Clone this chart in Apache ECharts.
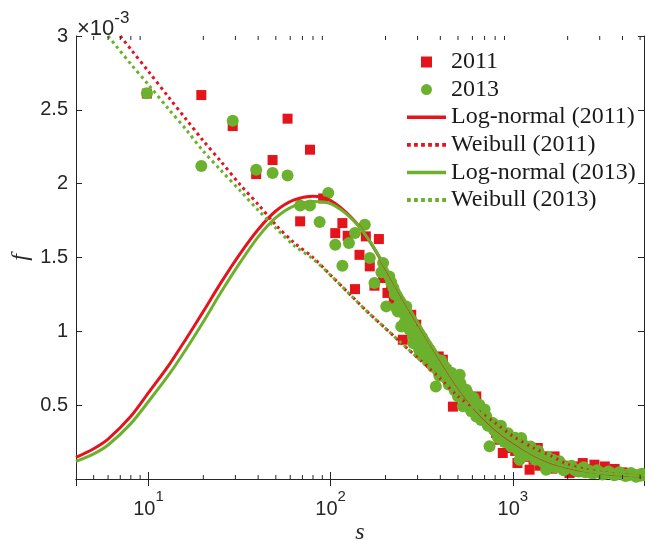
<!DOCTYPE html>
<html lang="en">
<head>
    <meta charset="UTF-8">
    <title>f vs s</title>
    <script src="https://cdn.jsdelivr.net/npm/echarts@6/dist/echarts.min.js"></script>
    <style>
        html, body { margin: 0; padding: 0; background: #fff; }
        #container { width: 645px; height: 541px; }
    </style>
</head>
<body>
<div id="container"></div>
<script>
    // values of f are in units of 1e-3 (as the axis shows them)
    var pts2011 = [
        [9.8, 2.61], [19.5, 2.60], [29, 2.39], [39, 2.065], [48, 2.16], [58, 2.44], [68, 1.745], [77, 2.23],
        [91, 1.90], [106, 1.665], [116, 1.733], [124, 1.647], [136, 1.286], [144, 1.518], [156, 1.643],
        [164, 1.44], [174, 1.309], [184, 1.625], [194, 1.361], [205, 1.26], [215, 1.282], [222, 1.219],
        [234, 1.158], [239, 1.18], [249, 0.943], [262, 1.10], [277, 1.112], [295, 1.045], [306, 0.909],
        [318, 0.95], [342, 0.819], [356, 0.785], [372, 0.762], [392, 0.83], [413, 0.808], [432, 0.74],
        [450, 0.70], [469, 0.49], [490, 0.64], [520, 0.60], [560, 0.53], [603, 0.458], [630, 0.559],
        [670, 0.44], [710, 0.40], [760, 0.36], [810, 0.31], [845, 0.266], [881, 0.176], [930, 0.25],
        [980, 0.21], [1030, 0.19], [1060, 0.108], [1120, 0.17], [1180, 0.15], [1236, 0.063], [1300, 0.13],
        [1371, 0.21], [1400, 0.09], [1460, 0.12], [1560, 0.10], [1650, 0.07], [1695, 0.153], [1900, 0.09],
        [2046, 0.04], [2100, 0.075], [2250, 0.05], [2300, 0.085], [2420, 0.108], [2600, 0.065], [2806, 0.097],
        [3000, 0.055], [3200, 0.085], [3400, 0.04], [3620, 0.068], [4000, 0.045], [4400, 0.035], [4800, 0.03],
        [5200, 0.028]
    ];
    var pts2013 = [
        [9.8, 2.613], [19.5, 2.12], [29, 2.426], [39, 2.094], [48, 2.072], [58, 2.056], [68, 1.852], [77, 1.852],
        [87, 1.74], [97, 1.936], [106, 1.586], [116, 1.444], [126, 1.598], [136, 1.666], [154, 1.722],
        [164, 1.496], [174, 1.327], [190, 1.40], [194, 1.462], [202, 1.169], [210, 1.372], [215, 1.33],
        [221, 1.293], [225, 1.25], [229, 1.158], [234, 1.135], [240, 1.20], [244, 1.033], [245, 1.15],
        [252, 1.12], [255, 1.06], [260, 1.169], [265, 1.08], [271, 1.011], [275, 1.05], [283, 0.966],
        [285, 0.92], [290, 1.00], [295, 0.98], [301, 0.932], [306, 0.875], [312, 0.95], [315, 0.84],
        [321, 0.887], [325, 0.92], [332, 0.90], [335, 0.82], [340, 0.86], [349, 0.875], [355, 0.86],
        [363, 0.83], [365, 0.76], [370, 0.80], [378, 0.627], [380, 0.78], [388, 0.808], [395, 0.70],
        [400, 0.76], [405, 0.80], [410, 0.74], [415, 0.70], [422, 0.762], [430, 0.74], [438, 0.718],
        [445, 0.64], [450, 0.68], [460, 0.72], [470, 0.66], [480, 0.60], [489, 0.695], [500, 0.56],
        [511, 0.706], [515, 0.65], [521, 0.627], [532, 0.492], [540, 0.50], [544, 0.582], [555, 0.605],
        [565, 0.58], [575, 0.52], [590, 0.46], [603, 0.537], [610, 0.55], [620, 0.48], [630, 0.424],
        [640, 0.46], [655, 0.503], [670, 0.40], [685, 0.45], [700, 0.47], [715, 0.424], [730, 0.36],
        [745, 0.221], [760, 0.38], [777, 0.379], [790, 0.33], [810, 0.35], [830, 0.28], [845, 0.322],
        [860, 0.36], [880, 0.30], [900, 0.25], [920, 0.288], [940, 0.31], [960, 0.26], [980, 0.22],
        [1000, 0.221], [1030, 0.28], [1050, 0.24], [1070, 0.19], [1090, 0.131], [1112, 0.278], [1130, 0.24],
        [1150, 0.20], [1200, 0.16], [1236, 0.198], [1250, 0.22], [1300, 0.17], [1330, 0.13], [1350, 0.14],
        [1380, 0.19], [1400, 0.165], [1450, 0.12], [1480, 0.11], [1524, 0.063], [1550, 0.15], [1600, 0.11],
        [1657, 0.131], [1700, 0.08], [1750, 0.09], [1800, 0.12], [1850, 0.10], [1900, 0.06], [1950, 0.07],
        [2050, 0.08], [2100, 0.09], [2200, 0.06], [2300, 0.05], [2350, 0.065], [2450, 0.08], [2500, 0.045],
        [2650, 0.055], [2700, 0.04], [2800, 0.04], [2900, 0.06], [3000, 0.045], [3100, 0.03], [3200, 0.035],
        [3350, 0.05], [3450, 0.04], [3600, 0.025], [3700, 0.03], [3850, 0.045], [4000, 0.032], [4150, 0.02],
        [4300, 0.025], [4450, 0.04], [4600, 0.028], [4750, 0.015], [5000, 0.022], [5100, 0.035], [5200, 0.025]
    ];

    // fitted curves
    var lnS = [4, 5, 6, 8, 10, 13, 16, 20, 25, 32, 40, 50, 63, 80, 100, 130, 160, 200, 250, 320, 400, 500,
        630, 800, 1000, 1300, 1600, 2000, 2500, 3200, 4000, 5000, 5250];
    var ln2011 = [0.146, 0.205, 0.27, 0.425, 0.585, 0.775, 0.945, 1.135, 1.33, 1.53, 1.69, 1.815, 1.89, 1.915,
        1.885, 1.77, 1.63, 1.43, 1.22, 1.0, 0.81, 0.625, 0.465, 0.34, 0.25, 0.165, 0.115, 0.08, 0.055, 0.038,
        0.028, 0.02, 0.019];
    var ln2013 = [0.119, 0.17, 0.23, 0.375, 0.525, 0.71, 0.875, 1.065, 1.265, 1.47, 1.64, 1.77, 1.85, 1.88,
        1.865, 1.765, 1.63, 1.435, 1.225, 1.005, 0.815, 0.63, 0.47, 0.345, 0.255, 0.168, 0.118, 0.082, 0.056,
        0.039, 0.029, 0.021, 0.02];
    var wbS2011 = [7, 8, 10, 13, 16, 20, 25, 32, 40, 50, 63, 80, 100, 130, 160, 200, 250, 320, 400, 500,
        630, 800, 1000, 1300, 1600, 2000, 2500, 3200, 4000, 5000, 5250];
    var wb2011 = [3.0, 2.91, 2.76, 2.58, 2.44, 2.29, 2.15, 1.99, 1.86, 1.72, 1.60, 1.50, 1.38, 1.24, 1.13,
        1.02, 0.91, 0.79, 0.68, 0.56, 0.47, 0.38, 0.29, 0.21, 0.16, 0.10, 0.065, 0.042, 0.03, 0.022, 0.021];
    var wbS2013 = [6, 8, 10, 13, 16, 20, 25, 32, 40, 50, 63, 80, 100, 130, 160, 200, 250, 320, 400, 500,
        630, 800, 1000, 1300, 1600, 2000, 2500, 3200, 4000, 5000, 5250];
    var wb2013 = [3.0, 2.81, 2.67, 2.50, 2.37, 2.22, 2.09, 1.95, 1.82, 1.70, 1.58, 1.49, 1.38, 1.24, 1.13,
        1.02, 0.91, 0.79, 0.68, 0.56, 0.47, 0.38, 0.29, 0.21, 0.16, 0.10, 0.065, 0.042, 0.03, 0.022, 0.021];

    var minorTicks = [5, 6, 7, 8, 9, 20, 30, 40, 50, 60, 70, 80, 90, 200, 300, 400, 500, 600, 700, 800, 900,
        2000, 3000, 4000, 5000];

    var RED = '#E3141C';
    var GREEN = '#6BB12E';
    var AXIS = '#262626';

    // legend sample shapes
    var ICON_SQUARE = 'path://M0,0h10v10h-10z';
    var ICON_SOLID = 'path://M0,0h39v3.5h-39z';
    var ICON_DOTS = 'path://M0,0h3.5v3.5h-3.5z M6.5,0h3.5v3.5h-3.5z M13,0h3.5v3.5h-3.5z ' +
        'M19.5,0h3.5v3.5h-3.5z M26,0h3.5v3.5h-3.5z M32.5,0h3.5v3.5h-3.5z';

    function pairs(xs, ys) {
        return xs.map(function (x, i) { return [x, ys[i]]; });
    }

    var myCharts = echarts.init(document.getElementById('container'));

    var logAxisBase = {
        type: 'log',
        logBase: 10,
        min: 4,
        max: 5250,
        axisLine: { lineStyle: { color: AXIS, width: 1 } },
        axisTick: { inside: true, length: 7, lineStyle: { color: AXIS } },
        splitLine: { show: false },
        minorTick: { show: false }
    };
    var valAxisBase = {
        type: 'value',
        min: 0,
        max: 3,
        interval: 0.5,
        axisLine: { show: true, lineStyle: { color: AXIS, width: 1 } },
        axisTick: { show: true, inside: true, length: 6, lineStyle: { color: AXIS } },
        splitLine: { show: false }
    };
    var supRich = {
        b: { fontFamily: 'Liberation Sans', fontSize: 20, color: AXIS, lineHeight: 30, verticalAlign: 'bottom' },
        sup: { fontFamily: 'Liberation Sans', fontSize: 15, color: AXIS, lineHeight: 16, verticalAlign: 'top' }
    };

    myCharts.setOption({
        animation: false,
        grid: { left: 76, top: 36, width: 568, height: 443, containLabel: false, outerBoundsMode: 'none' },
        xAxis: [
            echarts.util.merge({
                position: 'bottom',
                name: 's',
                nameLocation: 'middle',
                nameGap: 42,
                nameMoveOverlap: false,
                nameTextStyle: { fontFamily: 'Liberation Serif', fontStyle: 'italic', fontSize: 24, color: AXIS },
                axisLabel: {
                    showMinLabel: false,
                    showMaxLabel: false,
                    margin: 10,
                    formatter: function (v) {
                        return '{b|10}{sup|' + Math.round(Math.log10(v)) + '}';
                    },
                    rich: supRich
                }
            }, logAxisBase, true),
            echarts.util.merge({
                position: 'top',
                axisLabel: { show: false }
            }, logAxisBase, true)
        ],
        yAxis: [
            echarts.util.merge({
                position: 'left',
                name: 'f',
                nameLocation: 'middle',
                nameGap: 43,
                nameMoveOverlap: false,
                nameTextStyle: { fontFamily: 'Liberation Serif', fontStyle: 'italic', fontSize: 24, color: AXIS },
                axisLabel: {
                    showMinLabel: false,
                    margin: 8,
                    fontFamily: 'Liberation Sans',
                    fontSize: 20,
                    color: AXIS,
                    formatter: function (v) { return String(v); }
                }
            }, valAxisBase, true),
            echarts.util.merge({
                position: 'right',
                axisLabel: { show: false }
            }, valAxisBase, true)
        ],
        legend: {
            orient: 'vertical',
            left: 402,
            top: 45,
            itemWidth: 39,
            itemHeight: 11,
            itemGap: 3.6,
            symbolKeepAspect: true,
            data: [
                { name: '2011', icon: ICON_SQUARE },
                { name: '2013', icon: 'circle' },
                { name: 'Log-normal (2011)', icon: ICON_SOLID },
                { name: 'Weibull (2011)', icon: ICON_DOTS },
                { name: 'Log-normal (2013)', icon: ICON_SOLID },
                { name: 'Weibull (2013)', icon: ICON_DOTS }
            ],
            textStyle: { fontFamily: 'Liberation Serif', fontSize: 24, lineHeight: 22, color: '#1a1a1a' }
        },
        graphic: [{
            type: 'text',
            left: 77,
            top: 10,
            style: {
                text: '{b|\u00d710}{sup|-3}',
                rich: {
                    b: { fontFamily: 'Liberation Sans', fontSize: 22, fill: AXIS, lineHeight: 30, verticalAlign: 'bottom' },
                    sup: { fontFamily: 'Liberation Sans', fontSize: 17, fill: AXIS, lineHeight: 16, verticalAlign: 'top' }
                }
            }
        }],
        series: [
            {
                name: '2011',
                type: 'scatter',
                symbol: 'rect',
                symbolSize: 10,
                itemStyle: { color: RED, opacity: 1 },
                data: pts2011
            },
            {
                name: '2013',
                type: 'scatter',
                symbol: 'circle',
                symbolSize: 12,
                itemStyle: { color: GREEN, opacity: 1 },
                data: pts2013
            },
            {
                name: 'Log-normal (2011)',
                type: 'line',
                smooth: 0.3,
                showSymbol: false,
                symbol: 'none',
                lineStyle: { color: RED, width: 3 },
                itemStyle: { color: RED },
                data: pairs(lnS, ln2011)
            },
            {
                name: 'Weibull (2011)',
                type: 'line',
                smooth: 0.3,
                showSymbol: false,
                symbol: 'none',
                lineStyle: { color: RED, width: 3, type: [3, 3.5] },
                itemStyle: { color: RED },
                data: pairs(wbS2011, wb2011)
            },
            {
                name: 'Log-normal (2013)',
                type: 'line',
                smooth: 0.3,
                showSymbol: false,
                symbol: 'none',
                lineStyle: { color: GREEN, width: 3 },
                itemStyle: { color: GREEN },
                data: pairs(lnS, ln2013)
            },
            {
                name: 'Weibull (2013)',
                type: 'line',
                smooth: 0.3,
                showSymbol: false,
                symbol: 'none',
                lineStyle: { color: GREEN, width: 3, type: [3, 3.5] },
                itemStyle: { color: GREEN },
                data: pairs(wbS2013, wb2013)
            },
            {
                // log minor ticks on top and bottom edges
                type: 'custom',
                silent: true,
                z: 10,
                data: minorTicks.map(function (v) { return [v, 0]; }),
                renderItem: function (params, api) {
                    var x = api.coord([api.value(0), 0])[0];
                    var cs = params.coordSys;
                    var st = { stroke: AXIS, lineWidth: 1 };
                    return {
                        type: 'group',
                        children: [
                            { type: 'line', shape: { x1: x, y1: cs.y + cs.height, x2: x, y2: cs.y + cs.height - 4 }, style: st },
                            { type: 'line', shape: { x1: x, y1: cs.y, x2: x, y2: cs.y + 4 }, style: st }
                        ]
                    };
                }
            }
        ]
    });
</script>
</body>
</html>
